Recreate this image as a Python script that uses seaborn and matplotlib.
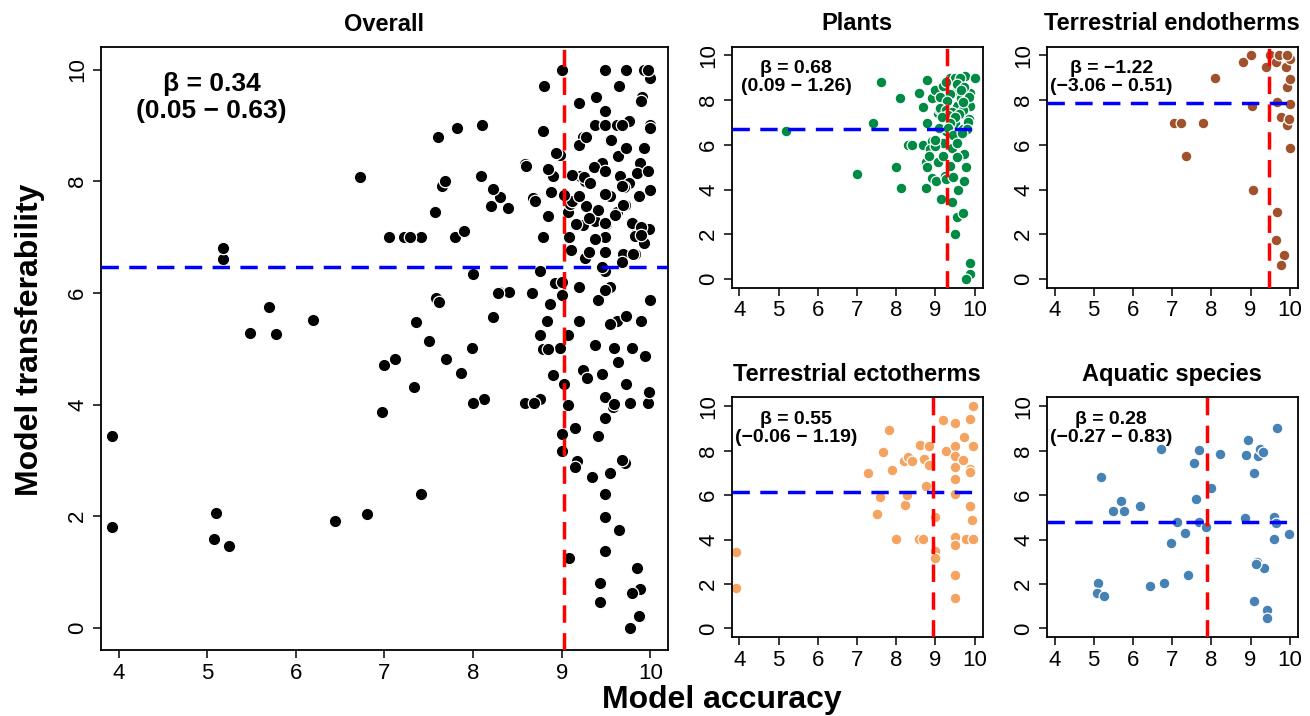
import numpy as np
import pandas as pd
import seaborn as sns
import matplotlib.pyplot as plt

# model accuracy / transferability per species
plants_acc = [5.18, 7.0, 7.41, 7.6, 7.99, 8.09, 8.12, 8.29, 8.41, 8.58, 8.68, 8.67, 8.79, 8.79,
              8.75, 8.79, 8.75, 8.9, 8.92, 8.87, 8.9, 9.07, 9.07, 9.09, 8.98, 9.02, 9.15, 9.21,
              9.24, 9.24, 9.24, 9.26, 9.37, 9.41, 9.41, 9.45, 9.49, 9.54, 9.54, 9.49, 9.58, 9.54,
              9.49, 9.62, 9.66, 9.69, 9.71, 9.73, 9.73, 9.76, 9.76, 9.79, 9.83, 9.85, 9.87, 9.88,
              9.77, 10.0, 9.87, 9.88, 9.19, 9.1, 9.37, 9.28, 9.45, 9.0, 9.19, 9.37, 9.19, 9.32,
              9.62, 9.71, 9.54, 8.83, 9.49, 9.62,
              9.27, 9.56, 9.73, 9.64, 9.36, 9.85, 9.12, 9.29, 9.7, 9.12, 9.27, 9.41, 9.6, 9.31,
              9.5, 9.16, 9.83, 9.37, 9.31, 9.8, 9.45, 9.68, 9.0, 9.55]
plants_tr = [6.6, 4.7, 7.0, 8.8, 5.02, 8.1, 4.09, 6.01, 6.01, 8.3, 7.7, 6.0, 8.9, 7.0,
             5.24, 5.0, 4.09, 8.1, 6.18, 5.8, 4.53, 5.24, 7.44, 7.6, 8.47, 4.36, 3.58, 8.1,
             7.21, 8.8, 4.62, 6.62, 9.0, 3.44, 5.88, 8.33, 7.0, 8.74, 7.73, 6.4, 3.96, 2.77,
             1.99, 5.5, 8.1, 6.7, 2.96, 4.36, 5.58, 9.07, 7.96, 5.02, 6.7, 7.14, 0.21, 0.7,
             0.0, 9.0, 7.73, 8.33, 6.1, 6.77, 5.07, 4.47, 4.55, 5.96, 5.5, 7.29, 8.65, 7.96,
             7.44, 7.58, 5.44, 5.5, 9.0, 9.0,
             8.8, 8.73, 8.6, 8.45, 8.26, 8.14, 8.12, 7.98, 7.9, 7.65, 7.55, 7.48, 7.4, 7.34,
             7.23, 7.23, 7.02, 6.97, 6.74, 6.69, 6.46, 6.55, 6.2, 6.1]

endo_acc = [7.05, 7.22, 7.35, 7.79, 8.1, 8.8, 9.0, 9.07, 9.03, 9.39, 9.49, 9.65, 9.68, 9.73,
            9.79, 9.9, 9.93, 9.93, 10.0, 10.0, 10.0, 10.0, 9.93, 9.98, 9.68, 9.65, 9.85, 9.79]
endo_tr = [7.0, 7.0, 5.48, 7.0, 9.0, 9.7, 10.0, 3.99, 7.76, 9.5, 10.0, 9.7, 7.91, 10.0,
           7.26, 9.5, 8.59, 6.89, 9.85, 8.95, 7.85, 5.88, 10.0, 7.14, 3.0, 1.76, 1.07, 0.62]

ecto_acc = [3.92, 3.92, 7.29, 7.5, 7.58, 7.65, 7.82, 7.9, 8.0, 8.2, 8.22, 8.3, 8.28, 8.39,
            8.6, 8.58, 8.69, 8.7, 8.75, 8.84, 8.84, 8.98, 9.0, 9.0, 9.2, 9.26, 9.49, 9.49,
            9.49, 9.49, 9.49, 9.49, 9.49, 9.49, 9.49, 9.49, 9.72, 9.69, 9.77, 9.89, 9.89, 9.89,
            9.89, 9.94, 9.97, 9.97, 9.97]
ecto_tr = [3.44, 1.81, 7.0, 5.13, 5.9, 7.92, 8.95, 7.11, 4.03, 7.55, 5.56, 7.71, 6.0, 7.52,
           8.27, 4.03, 4.03, 7.64, 6.39, 8.22, 7.37, 5.01, 3.47, 3.17, 9.4, 8.0, 9.26, 8.19,
           7.77, 7.26, 6.74, 6.05, 4.13, 3.76, 2.4, 1.37, 8.6, 7.57, 4.03, 9.44, 7.18, 7.04,
           5.5, 4.87, 10.0, 8.19, 4.03]

aqua_acc = [5.1, 5.08, 5.25, 5.18, 5.48, 5.7, 5.78, 6.19, 6.44, 6.72, 6.8, 6.97, 7.12, 7.33,
            7.41, 7.57, 7.62, 7.68, 7.69, 7.86, 8.0, 8.22, 8.85, 8.88, 8.94, 9.08, 9.17, 9.08,
            9.19, 9.25, 9.32, 9.34, 9.15, 9.43, 9.43, 9.59, 9.64, 9.59, 9.68, 9.98]
aqua_tr = [2.06, 1.59, 1.47, 6.81, 5.29, 5.75, 5.27, 5.52, 1.92, 8.07, 2.04, 3.86, 4.81, 4.31,
           2.39, 7.45, 5.83, 8.01, 4.81, 4.57, 6.34, 7.86, 4.99, 7.8, 8.5, 7.0, 2.99, 1.25,
           7.74, 8.08, 7.96, 2.7, 2.88, 0.81, 0.47, 5.01, 4.76, 4.01, 9.0, 4.23]

group_names = ["Plants", "Terrestrial endotherms", "Terrestrial ectotherms", "Aquatic species"]
group_colors = ["#008B45", "#A0522D", "#F4A460", "#4682B4"]
panel_titles = ["Overall"] + group_names
panel_colors = ["black"] + group_colors
beta_labels = ["β = 0.34\n(0.05 − 0.63)", "β = 0.68\n(0.09 − 1.26)", "β = −1.22\n(−3.06 − 0.51)",
               "β = 0.55\n(−0.06 − 1.19)", "β = 0.28\n(−0.27 − 0.83)"]
acc_cut = [9.03, 9.3, 9.47, 8.93, 7.9]
transf_cut = [6.47, 6.73, 7.87, 6.12, 4.8]

frames = []
for name, xs, ys in zip(group_names, [plants_acc, endo_acc, ecto_acc, aqua_acc],
                        [plants_tr, endo_tr, ecto_tr, aqua_tr]):
    frames.append(pd.DataFrame({"accuracy": xs, "transferability": ys, "group": name}))
df = pd.concat(frames, ignore_index=True)

sns.set_style("ticks")
plt.rcParams["font.family"] = ["Liberation Sans", "DejaVu Sans"]
plt.rcParams["text.color"] = "black"
plt.rcParams["xtick.color"] = "black"
plt.rcParams["ytick.color"] = "black"
plt.rcParams["axes.edgecolor"] = "black"

fig = plt.figure(figsize=(13.1, 7.16), dpi=100)
rects = [[0.077, 0.092, 0.433, 0.842],
         [0.5585, 0.598, 0.1915, 0.337],
         [0.799, 0.598, 0.1915, 0.337],
         [0.5585, 0.110, 0.1915, 0.335],
         [0.799, 0.110, 0.1915, 0.335]]

for i, rect in enumerate(rects):
    ax = fig.add_axes(rect)
    if i == 0:
        sub = df
        size, txt_size, txt_pos, lsp = 80, 19, (5.05, 9.5), 1.2
    else:
        sub = df[df["group"] == group_names[i - 1]]
        size, txt_size, txt_pos, lsp = 60, 14, (5.45, 9.0), 1.1
    sns.scatterplot(data=sub, x="accuracy", y="transferability", color=panel_colors[i],
                    s=size, edgecolor="white", linewidth=0.9, ax=ax, zorder=2)
    ax.axhline(transf_cut[i], color="blue", ls=(0, (5, 3)), lw=2.5, zorder=3)
    ax.axvline(acc_cut[i], color="red", ls=(0, (5, 3)), lw=2.5, zorder=3)
    ax.text(txt_pos[0], txt_pos[1], beta_labels[i], ha="center", va="center",
            fontsize=txt_size, fontweight="bold", linespacing=lsp, zorder=4)
    ax.set_xlim(3.8, 10.2)
    ax.set_ylim(-0.4, 10.4)
    ax.set_xticks(range(4, 11))
    ax.set_yticks(range(0, 11, 2))
    ax.set_xlabel("")
    ax.set_ylabel("")
    ax.set_title(panel_titles[i], fontsize=17, fontweight="bold", pad=12)
    ax.tick_params(labelsize=16, length=6, width=1.1, pad=3)
    ax.tick_params(axis="y", labelrotation=90)
    for lab in ax.get_yticklabels():
        lab.set_va("center")
    for sp in ax.spines.values():
        sp.set_linewidth(1.3)

fig.text(0.023, 0.525, "Model transferability", rotation=90, ha="center", va="center",
         fontsize=23, fontweight="bold")
fig.text(0.551, 0.022, "Model accuracy", ha="center", va="center", fontsize=23, fontweight="bold")

plt.savefig("out.png", dpi=100)
plt.close()
